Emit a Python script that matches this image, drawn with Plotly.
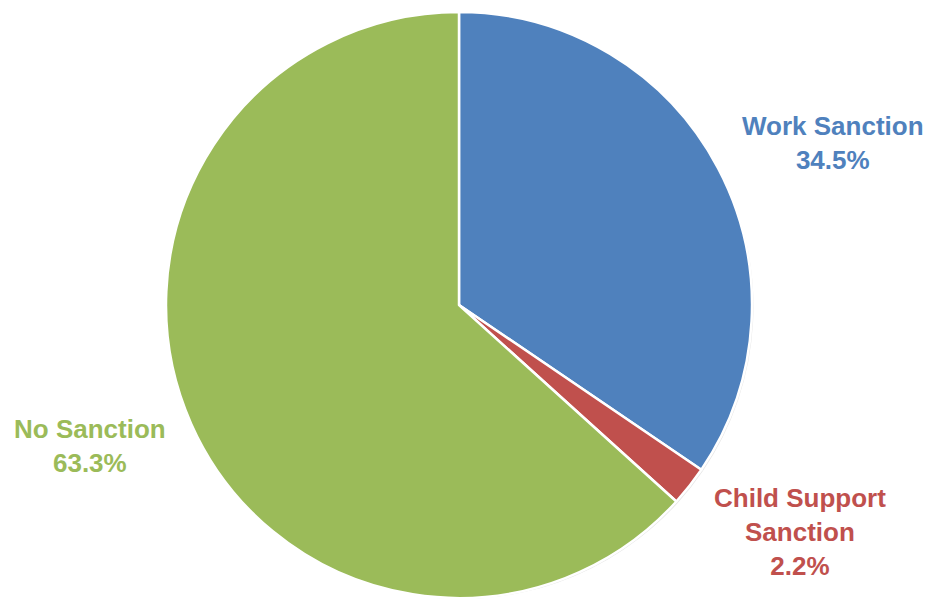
import math
import plotly.graph_objects as go

categories = ["Work Sanction", "Child Support<br>Sanction", "No Sanction"]
values = [34.5, 2.2, 63.3]
colors = ["#4F81BD", "#C0504D", "#9BBB59"]

W, H = 930, 599
cx, cy, r = 459, 305, 293

# label placement style: (radius factor, angle nudge in degrees)
label_style = [(1.39, 4.5), (1.40, -4.5), (1.35, 3.0)]

fig = go.Figure()
dom_x = [(cx - r) / W, (cx + r) / W]
dom_y = [max(0, 1 - (cy + r) / H), min(1, 1 - (cy - r) / H)]

# soft shadow
fig.add_trace(go.Pie(
    values=values, sort=False, direction="clockwise", rotation=0,
    marker=dict(colors=["rgba(0,0,0,0.10)"] * 3, line=dict(width=0)),
    textinfo="none", hoverinfo="skip", showlegend=False,
    domain=dict(x=[dom_x[0] + 2 / W, dom_x[1] + 2 / W], y=[0, dom_y[1] - 2 / H]),
))
fig.add_trace(go.Pie(
    labels=categories, values=values, sort=False, direction="clockwise", rotation=0,
    marker=dict(colors=colors, line=dict(color="white", width=2.5)),
    textinfo="none", showlegend=False,
    domain=dict(x=dom_x, y=dom_y),
))

total = sum(values)
cum = 0
for lab, v, col, (rf, nud) in zip(categories, values, colors, label_style):
    mid = (cum + v / 2) / total * 360 + nud
    cum += v
    a = math.radians(mid)
    px = cx + rf * r * math.sin(a)
    py = cy - rf * r * math.cos(a)
    fig.add_annotation(
        x=px / W, y=1 - py / H, xref="paper", yref="paper",
        text=f"<b>{lab}<br>{v:.1f}%</b>", showarrow=False,
        font=dict(family="Liberation Sans, Arial", size=26, color=col),
        align="center", xanchor="center", yanchor="middle",
    )

fig.update_layout(
    width=W, height=H, margin=dict(l=0, r=0, t=0, b=0),
    paper_bgcolor="white", plot_bgcolor="white",
)
fig.write_html("out.html")
